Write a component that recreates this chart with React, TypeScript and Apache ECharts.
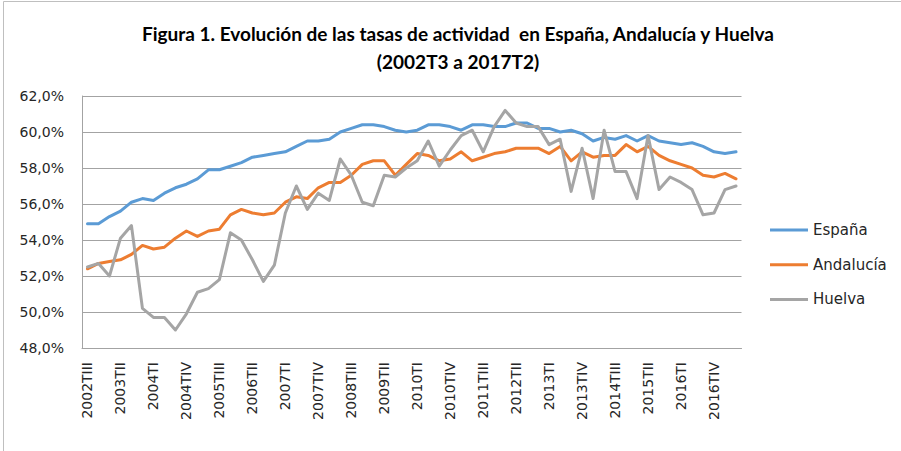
import React, { useEffect, useRef } from "react";
import * as echarts from "echarts";

const categories = [
  "2002TIII", "2002TIV",
  "2003TI", "2003TII", "2003TIII", "2003TIV",
  "2004TI", "2004TII", "2004TIII", "2004TIV",
  "2005TI", "2005TII", "2005TIII", "2005TIV",
  "2006TI", "2006TII", "2006TIII", "2006TIV",
  "2007TI", "2007TII", "2007TIII", "2007TIV",
  "2008TI", "2008TII", "2008TIII", "2008TIV",
  "2009TI", "2009TII", "2009TIII", "2009TIV",
  "2010TI", "2010TII", "2010TIII", "2010TIV",
  "2011TI", "2011TII", "2011TIII", "2011TIV",
  "2012TI", "2012TII", "2012TIII", "2012TIV",
  "2013TI", "2013TII", "2013TIII", "2013TIV",
  "2014TI", "2014TII", "2014TIII", "2014TIV",
  "2015TI", "2015TII", "2015TIII", "2015TIV",
  "2016TI", "2016TII", "2016TIII", "2016TIV",
  "2017TI", "2017TII",
];

const espana = [
  54.9, 54.9, 55.3, 55.6, 56.1, 56.3, 56.2, 56.6, 56.9, 57.1,
  57.4, 57.9, 57.9, 58.1, 58.3, 58.6, 58.7, 58.8, 58.9, 59.2,
  59.5, 59.5, 59.6, 60.0, 60.2, 60.4, 60.4, 60.3, 60.1, 60.0,
  60.1, 60.4, 60.4, 60.3, 60.1, 60.4, 60.4, 60.3, 60.3, 60.5,
  60.5, 60.2, 60.2, 60.0, 60.1, 59.9, 59.5, 59.7, 59.6, 59.8,
  59.5, 59.8, 59.5, 59.4, 59.3, 59.4, 59.2, 58.9, 58.8, 58.9,
];

const andalucia = [
  52.4, 52.7, 52.8, 52.9, 53.2, 53.7, 53.5, 53.6, 54.1, 54.5,
  54.2, 54.5, 54.6, 55.4, 55.7, 55.5, 55.4, 55.5, 56.1, 56.4,
  56.3, 56.9, 57.2, 57.2, 57.6, 58.2, 58.4, 58.4, 57.6, 58.2,
  58.8, 58.7, 58.4, 58.5, 58.9, 58.4, 58.6, 58.8, 58.9, 59.1,
  59.1, 59.1, 58.8, 59.2, 58.4, 58.9, 58.6, 58.7, 58.7, 59.3,
  58.9, 59.2, 58.7, 58.4, 58.2, 58.0, 57.6, 57.5, 57.7, 57.4,
];

const huelva = [
  52.5, 52.7, 52.0, 54.1, 54.8, 50.2, 49.7, 49.7, 49.0, 49.9,
  51.1, 51.3, 51.8, 54.4, 54.0, 52.9, 51.7, 52.6, 55.5, 57.0,
  55.7, 56.6, 56.2, 58.5, 57.6, 56.1, 55.9, 57.6, 57.5, 58.0,
  58.4, 59.5, 58.1, 59.0, 59.8, 60.1, 58.9, 60.3, 61.2, 60.5,
  60.3, 60.3, 59.3, 59.6, 56.7, 59.1, 56.3, 60.1, 57.8, 57.8,
  56.3, 59.8, 56.8, 57.5, 57.2, 56.8, 55.4, 55.5, 56.8, 57.0,
];

const titleLine1 = "Figura 1. Evolución de las tasas de actividad  en España, Andalucía y Huelva";
const titleLine2 = "(2002T3 a 2017T2)";

const labelFont = "'DejaVu Sans', Verdana, sans-serif";
const titleFont = "Lato, Roboto, sans-serif";

export default function App() {
  const ref = useRef<HTMLDivElement>(null);

  useEffect(() => {
    if (!ref.current) return;
    const chart = echarts.init(ref.current, undefined, { renderer: "svg" });
    const mkSeries = (name: string, data: number[], color: string) => ({
      name,
      type: "line",
      data,
      symbol: "none",
      showSymbol: false,
      lineStyle: { color, width: 3, join: "round", cap: "round" },
      itemStyle: { color },
      z: 3,
    });
    chart.setOption({
      animation: false,
      backgroundColor: "#ffffff",
      graphic: [
        {
          type: "rect",
          shape: { x: 3.5, y: 1.5, width: 1200, height: 1200 },
          style: { fill: "none", stroke: "#bfbfbf", lineWidth: 1 },
          silent: true,
        },
        {
          type: "text",
          x: 458,
          y: 33,
          style: {
            text: titleLine1,
            font: `bold 19px ${titleFont}`,
            fill: "#000",
            align: "center",
            verticalAlign: "middle",
          },
        },
        {
          type: "text",
          x: 458,
          y: 61,
          style: {
            text: titleLine2,
            font: `bold 19px ${titleFont}`,
            fill: "#000",
            align: "center",
            verticalAlign: "middle",
          },
        },
      ],
      legend: {
        orient: "vertical",
        left: 770,
        top: 222.5,
        padding: 0,
        icon: "rect",
        itemWidth: 38,
        itemHeight: 3,
        itemGap: 19.7,
        textStyle: { fontFamily: labelFont, fontSize: 15, lineHeight: 15, color: "#262626" },
        data: ["España", "Andalucía", "Huelva"],
      },
      grid: { left: 82, right: 159.5, top: 96, bottom: 103, containLabel: false },
      xAxis: {
        type: "category",
        data: categories,
        boundaryGap: true,
        axisLine: { show: true, lineStyle: { color: "#a3a3a3", width: 1 } },
        axisTick: { show: false },
        axisLabel: {
          interval: 2,
          rotate: 90,
          margin: 14,
          fontFamily: labelFont,
          fontSize: 14,
          color: "#262626",
        },
      },
      yAxis: {
        type: "value",
        min: 48,
        max: 62,
        interval: 2,
        axisLine: { show: true, lineStyle: { color: "#a3a3a3", width: 1 } },
        axisTick: { show: false },
        splitLine: { show: true, lineStyle: { color: "#a3a3a3", width: 1 } },
        axisLabel: {
          margin: 18,
          fontFamily: labelFont,
          fontSize: 14,
          color: "#262626",
          formatter: (v: number) => v.toFixed(1).replace(".", ",") + "%",
        },
      },
      series: [
        mkSeries("España", espana, "#5B9BD5"),
        mkSeries("Andalucía", andalucia, "#ED7D31"),
        mkSeries("Huelva", huelva, "#A5A5A5"),
      ],
    });
    return () => chart.dispose();
  }, []);

  return (
    <div
      ref={ref}
      style={{ position: "absolute", left: 0, top: 0, width: 901, height: 451 }}
    />
  );
}
